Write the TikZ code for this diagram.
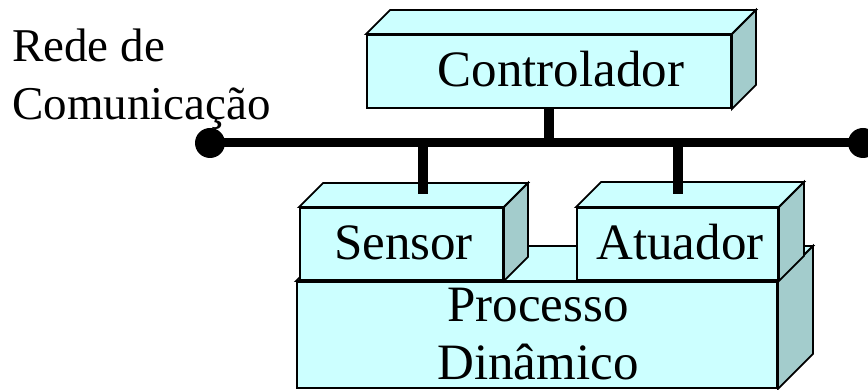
\documentclass[tikz,border=0pt]{standalone}
\usepackage{fontspec}
\setmainfont{Liberation Serif}
\definecolor{facec}{HTML}{CCFFFF}
\definecolor{sidec}{HTML}{A3CCCC}
\tikzset{
  face/.style={draw=black, fill=facec, line width=1.8pt, line join=miter, inner sep=0pt},
  boxtxt/.style={inner sep=0pt, anchor=base, font=\fontsize{51}{58}\selectfont},
  lbl/.style={inner sep=0pt, anchor=base west, font=\fontsize{47}{56}\selectfont},
  stem/.style={line width=10pt, line cap=butt},
  busline/.style={line width=9pt, line cap=butt},
  dot/.style={circle, fill=black, inner sep=0pt, minimum size=30pt},
}
\newcommand\boxfaces[2]{%
  \draw[face] (#1.north west) -- ++(#2,#2) -- ([shift={(#2,#2)}]#1.north east) -- (#1.north east) -- cycle;
  \draw[face, fill=sidec] (#1.north east) -- ([shift={(#2,#2)}]#1.north east) -- ([shift={(#2,#2)}]#1.south east) -- (#1.south east) -- cycle;
}
\begin{document}
\begin{tikzpicture}[x=1pt, y=1pt]
\useasboundingbox (0,0) rectangle (868,390);
% left label
\node[lbl] (rede) at (12,328) {Rede de};
\node[lbl] (com) at (12,270) {Comunicação};
% controller
\node[face, minimum width=364pt, minimum height=73pt] (ctrl) at (549,318.5) {};
\boxfaces{ctrl}{24}
\node[boxtxt] (tctrl) at (561,303) {Controlador};
% bus
\node[dot] (dL) at (210,247) {};
\node[dot] (dR) at (863,247) {};
\draw[busline] (dL.center) -- (dR.center);
\draw[stem] (ctrl.south) -- (ctrl.south |- dL);
% process
\node[face, minimum width=480pt, minimum height=106pt] (proc) at (537,55) {};
\boxfaces{proc}{35}
\node[inner sep=0pt, anchor=base, align=center, font=\fontsize{51}{58}\selectfont] (tproc) at (538,10) {Processo\\Dinâmico};
% sensor
\node[face, minimum width=203pt, minimum height=72pt] (sens) at (401.5,146) {};
\boxfaces{sens}{24}
\node[boxtxt] (tsens) at (403.5,130) {Sensor};
% actuator
\node[face, minimum width=201pt, minimum height=72pt] (atu) at (677.5,146) {};
\boxfaces{atu}{25}
\node[boxtxt] (tatu) at (680,130) {Atuador};
% stems to bus
\coordinate (sbus) at (423,247);
\coordinate (abus) at (678,247);
\draw[stem] (sbus) -- ([yshift=13pt]sbus |- sens.north);
\draw[stem] (abus) -- ([yshift=13pt]abus |- atu.north);
\end{tikzpicture}
\end{document}
